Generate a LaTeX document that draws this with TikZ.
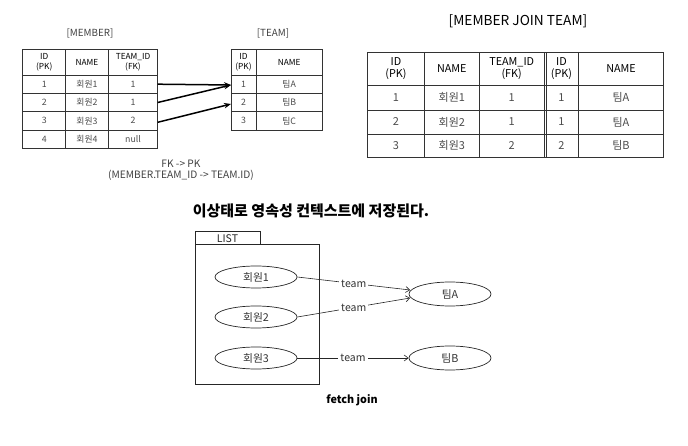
\documentclass[tikz,border=0pt]{standalone}
\usepackage{fontspec}
\setmainfont{Noto Sans CJK KR}
\usetikzlibrary{arrows.meta,shapes.geometric}
\begin{document}
\begin{tikzpicture}[x=1pt,y=-1pt,
  grid/.style={draw=black!80,line width=0.8pt},
  hd/.style={align=center,inner sep=0pt,font=\fontsize{8.3}{9.2}\selectfont},
  cell/.style={inner sep=0pt,text=black!70,font=\fontsize{8.8}{9}\selectfont},
  hdb/.style={align=center,inner sep=0pt,font=\fontsize{10.8}{11.8}\selectfont},
  cellb/.style={inner sep=0pt,text=black!70,font=\fontsize{11}{11}\selectfont},
  lbl/.style={text=black!75,font=\fontsize{9.8}{10}\selectfont},
  fk/.style={-{Stealth[length=7pt,width=5.5pt]},line width=1.5pt},
  oval/.style={ellipse,draw=black!85,line width=0.7pt,minimum width=82pt,minimum height=22pt,inner sep=0pt,font=\fontsize{10.8}{11}\selectfont,text=black!80},
  rel/.style={-{Straight Barb[length=4pt,width=6pt]},line width=0.6pt,draw=black!85},
  rellbl/.style={fill=white,inner sep=2pt,text=black!80,font=\fontsize{10.5}{11}\selectfont}
]
\useasboundingbox (0,0) rectangle (688,446);

% ---------- MEMBER table ----------
\node[lbl] (tmember) at (90,33) {[MEMBER]};
\draw[grid] (22.7,49.3) rectangle (157.7,148.3);
\foreach \x in {65.7,108.3} \draw[grid] (\x,49.3) -- (\x,148.3);
\foreach \y in {75,93.3,111.7,130} \draw[grid] (22.7,\y) -- (157.7,\y);
\node[hd] (mh1) at (44.2,62.2) {ID\\(PK)};
\node[hd] (mh2) at (87,62.2) {NAME};
\node[hd] (mh3) at (133,62.2) {TEAM\_ID\\(FK)};
\foreach \i/\y/\n/\t in {1/84.2/회원1/1,2/102.5/회원2/1,3/120.8/회원3/2,4/139.2/회원4/null}{
  \node[cell] (mid\i) at (44.2,\y) {\i};
  \node[cell] (mname\i) at (87,\y) {\n};
  \node[cell] (mtid\i) at (133,\y) {\t};
  \coordinate (mout\i) at (157.7,\y);
}

% ---------- TEAM table ----------
\node[lbl] (tteam) at (273,33) {[TEAM]};
\draw[grid] (231,49.3) rectangle (322.3,130);
\draw[grid] (256,49.3) -- (256,130);
\foreach \y in {75,93.3,111.7} \draw[grid] (231,\y) -- (322.3,\y);
\node[hd] (th1) at (243.5,62.2) {ID\\(PK)};
\node[hd] (th2) at (289.2,62.2) {NAME};
\foreach \i/\y/\n in {1/84.2/팀A,2/102.5/팀B,3/120.8/팀C}{
  \node[cell] (tid\i) at (243.5,\y) {\i};
  \node[cell] (tname\i) at (289.2,\y) {\n};
  \coordinate (tin\i) at (231,\y);
}
\draw[fk] (mout1) -- ([yshift=-0.8pt]tin1);
\draw[fk] (mout2) -- ([yshift=-0.8pt]tin1);
\draw[fk] ([yshift=-1.5pt]mout3) -- ([yshift=-1.5pt]tin2);

\node[align=center,text=black!75,font=\fontsize{10.2}{11.5}\selectfont] (fkpk) at (181,170.5) {FK -> PK\\(MEMBER.TEAM\_ID -> TEAM.ID)};

% ---------- JOIN table ----------
\node[font=\fontsize{13.7}{14}\selectfont] (tjoin) at (518,21.5) {[MEMBER JOIN TEAM]};
\draw[grid] (367.7,52.7) rectangle (663.3,157.3);
\foreach \x in {424.3,479.3,544,546.2,578.7} \draw[grid] (\x,52.7) -- (\x,157.3);
\foreach \y in {85,110,134} \draw[grid] (367.7,\y) -- (663.3,\y);
\node[hdb] (jh1) at (396,68.8) {ID\\(PK)};
\node[hdb] (jh2) at (451.8,68.8) {NAME};
\node[hdb] (jh3) at (511.7,68.8) {TEAM\_ID\\(FK)};
\node[hdb] (jh4) at (561.4,68.8) {ID\\(PK)};
\node[hdb] (jh5) at (621,68.8) {NAME};
\foreach \i/\y/\n/\t/\tn in {1/97.5/회원1/1/팀A,2/122/회원2/1/팀A,3/145.7/회원3/2/팀B}{
  \node[cellb] (j\i a) at (396,\y) {\i};
  \node[cellb] (j\i b) at (451.8,\y) {\n};
  \node[cellb] (j\i c) at (511.7,\y) {\t};
  \node[cellb] (j\i d) at (561.4,\y) {\t};
  \node[cellb] (j\i e) at (621,\y) {\tn};
}

% ---------- persistence context ----------
\node[font=\bfseries\fontsize{15}{15}\selectfont] (ctxtitle) at (311,211) {이상태로 영속성 컨텍스트에 저장된다.};
\draw[draw=black!85,line width=0.7pt] (195,231.3) rectangle (260,244.7);
\node[inner sep=0pt,text=black!85,font=\fontsize{10.5}{10.5}\selectfont] (listlbl) at (227.5,238.3) {LIST};
\draw[draw=black!85,line width=0.7pt] (195,244.7) rectangle (319.3,384.7);

\node[oval] (m1) at (256,277) {회원1};
\node[oval] (m2) at (256,317) {회원2};
\node[oval] (m3) at (256,358) {회원3};
\node[oval,minimum height=24pt] (ta) at (450,294) {팀A};
\node[oval,minimum height=24pt] (tb) at (450,358) {팀B};

\draw[rel] (m1.east) -- node[rellbl] {team} ([yshift=4pt,xshift=1.5pt]ta.west);
\draw[rel] (m2.east) -- node[rellbl] {team} ([yshift=-4pt,xshift=1.5pt]ta.west);
\draw[rel] (m3.east) -- node[rellbl] {team} (tb.west);

\node[font=\bfseries\fontsize{10.8}{11}\selectfont] (fetch) at (352,400) {fetch join};
\end{tikzpicture}
\end{document}
